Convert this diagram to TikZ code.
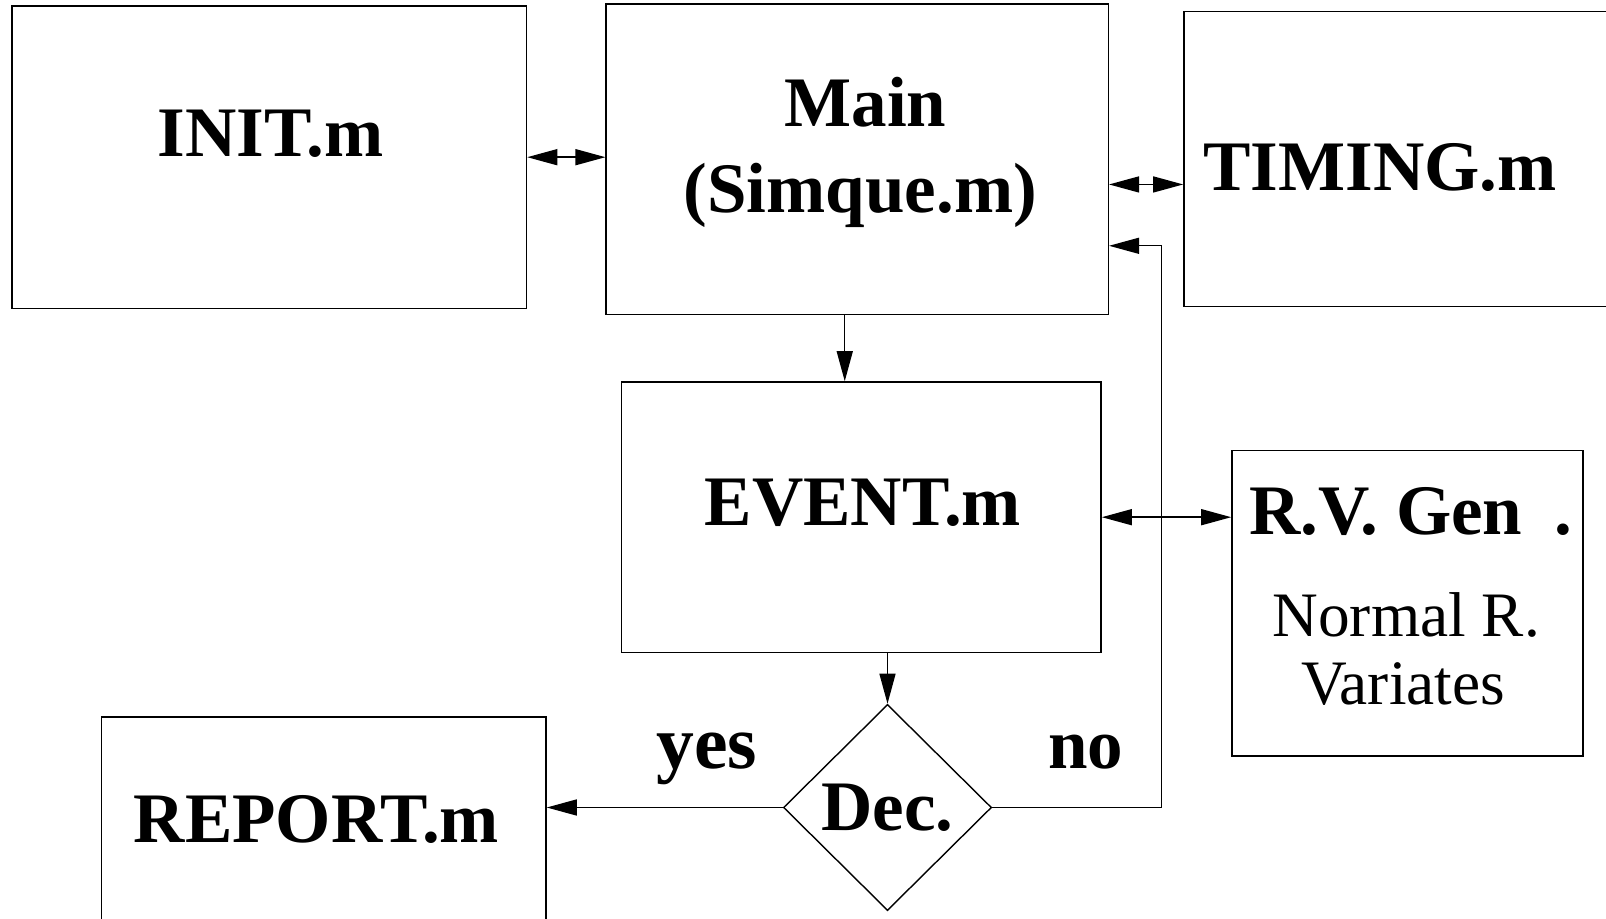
\documentclass[tikz,border=0pt]{standalone}
\usepackage{fontspec}
\setmainfont{Liberation Serif}
\usetikzlibrary{arrows.meta,shapes.geometric}
\tikzset{
	box/.style={draw, line width=0.4pt, inner sep=0pt},
	decbox/.style={draw, diamond, line width=0.4pt, inner sep=0pt, font=\fontsize{20.2}{24}\selectfont\bfseries},
	big/.style={font=\fontsize{20.2}{24}\selectfont\bfseries, inner sep=0pt, anchor=base},
	small/.style={font=\fontsize{18}{22}\selectfont, inner sep=0pt, anchor=base},
	>={Triangle[length=3mm,width=1.6mm]}
}
\begin{document}
\begin{tikzpicture}[x=0.01cm, y=-0.01cm, line width=0.4pt]
		\clip (0,0) rectangle (1606,919);
		\node[box, minimum width=51.41mm, minimum height=30.22mm] (init) at (269.35,157.2) {};
		\node[box, minimum width=50.19mm, minimum height=31.03mm] (main) at (857.25,159.25) {};
		\node[box, minimum width=45.6mm, minimum height=29.49mm] (timing) at (1412,158.75) {};
		\node[box, minimum width=47.93mm, minimum height=27.04mm] (event) at (861.35,517.2) {};
		\node[box, minimum width=35.1mm, minimum height=30.53mm] (rvgen) at (1407.5,603.25) {};
		\node[box, minimum width=44.45mm, minimum height=23.3mm] (report) at (323.65,833.5) {};
		\node[decbox, minimum width=20.8mm, minimum height=20.6mm] (dec) at (887.5,807.5) {Dec.};

		\node[big] (initlbl) at (270.4,156.7) {INIT.m};
		\node[big] (mainlbl) at (865.5,127) {Main};
		\node[big] (simquelbl) at (860.3,213) {(Simque.m)};
		\node[big] (timinglbl) at (1380,190.5) {TIMING.m};
		\node[big] (eventlbl) at (862.9,525.4) {EVENT.m};
		\node[big] (rvlbl) at (1410.8,534.6) {R.V. Gen\hspace{0.45em}.};
		\node[small] (normallbl) at (1406.2,637) {Normal R.};
		\node[small] (variateslbl) at (1403,704.6) {Variates};
		\node[big] (reportlbl) at (316.5,843) {REPORT.m};
		\node[big, font=\fontsize{21.5}{24}\selectfont\bfseries] (yeslbl) at (707,768) {yes};
		\node[big] (nolbl) at (1086,768) {no};

		\draw[<->] (init.east) -- (init.east -| main.west);
		\draw[<->] ([yshift=-2.52mm]main.east) -- ([yshift=-2.52mm]main.east -| timing.west);
		\draw[->] ([xshift=-1.25mm]main.south) -- ([xshift=-1.25mm]main.south |- event.north);
		\draw[->] (event.south -| dec.north) -- (dec.north);
		\draw[->] (dec.west) -- (dec.west -| report.east);
		\draw[<->] (event.east) -- (event.east -| rvgen.west);
		\coordinate (turn) at (1161.4,245.8);
		\draw[->] (dec.east) -| (turn) -- (turn -| main.east);
	\end{tikzpicture}
\end{document}
